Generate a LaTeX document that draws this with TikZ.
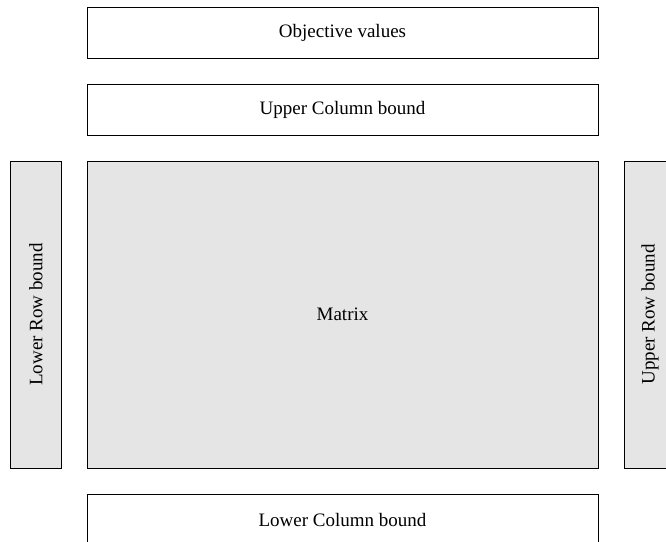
\documentclass[tikz,border=0pt]{standalone}
\usepackage{fontspec}
\setmainfont{Liberation Serif}
\begin{document}
\begin{tikzpicture}[x=0.5pt, y=-0.5pt,
    every node/.style={font=\fontsize{9.5}{11}\selectfont},
    block/.style={draw, line width=0.5pt, rectangle, inner sep=0pt},
    hbar/.style={block, minimum width=255.5pt, minimum height=25.5pt},
    vbar/.style={block, fill=gray!20, minimum width=25.5pt, minimum height=153.5pt}]
    \useasboundingbox (0,0) rectangle (666,542);

    % Column data above the matrix
    \node[hbar] (obj) at (342.5,33) {Objective values};
    \node[hbar] (ucol) at (342.5,110) {Upper Column bound};

    % Matrix with row bounds on both sides
    \node[block, fill=gray!20, minimum width=255.5pt, minimum height=153.5pt] (mat) at (342.5,314.5) {Matrix};
    \node[vbar] (lrow) at (36,314.5) {\rotatebox{90}{Lower Row bound}};
    \node[vbar] (urow) at (650,314.5) {\rotatebox{90}{Upper Row bound}};

    % Column data below the matrix
    \node[hbar] (lcol) at (342.5,520) {Lower Column bound};
\end{tikzpicture}
\end{document}
